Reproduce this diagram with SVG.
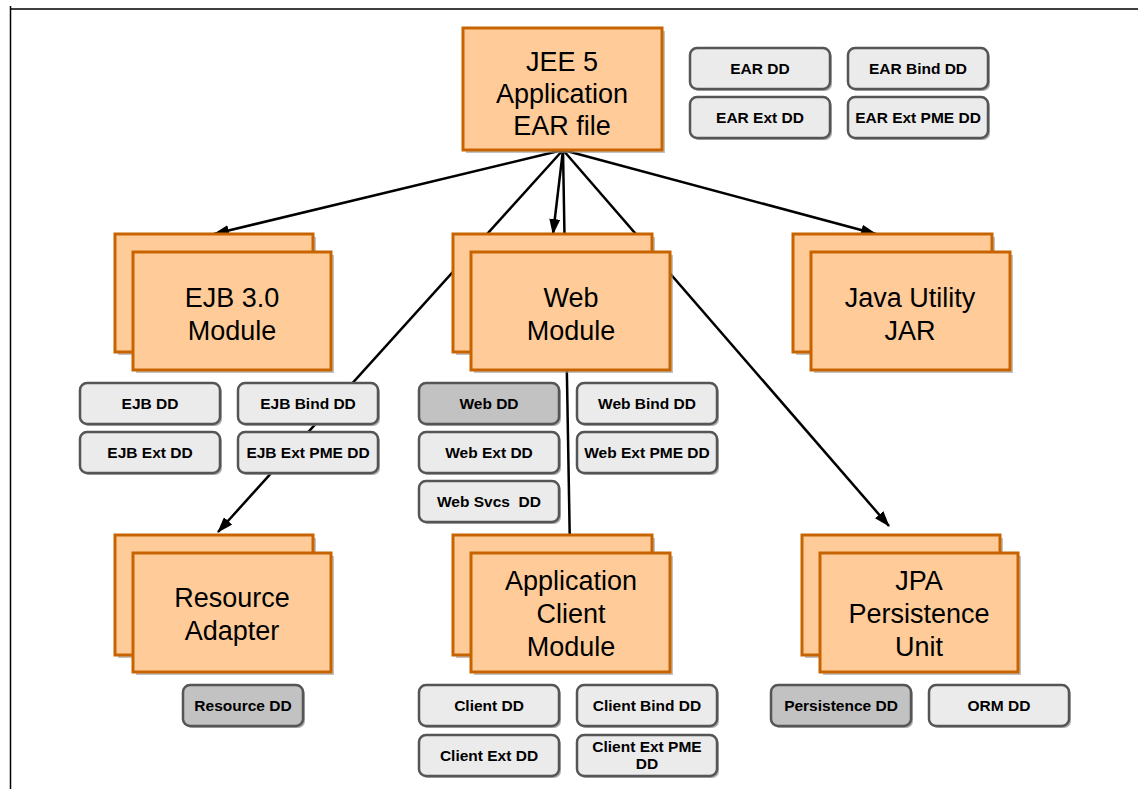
<svg xmlns="http://www.w3.org/2000/svg" width="1138" height="789" viewBox="0 0 1138 789">
<defs>
<style>
.mod{fill:#FFCC99;stroke:#C86400;stroke-width:3}
.msh{fill:#9a9a9a;opacity:0.6}
.dd{fill:#EBEBEB;stroke:#555;stroke-width:2.5}
.ddk{fill:#C2C2C2;stroke:#555;stroke-width:2.5}
.dsh{fill:#8a8a8a;opacity:0.7}
.mt{font-family:"Liberation Sans",Arial,sans-serif;font-size:27px;fill:#000;text-anchor:middle}
.dt{font-family:"Liberation Sans",Arial,sans-serif;font-size:15.5px;font-weight:bold;fill:#000;text-anchor:middle}
.ln{stroke:#000;stroke-width:2.5;fill:none}
</style>
<marker id="ah" viewBox="0 0 16 11" refX="15" refY="5.5" markerWidth="16" markerHeight="11" markerUnits="userSpaceOnUse" orient="auto">
<path d="M0,0 L16,5.5 L0,11 Z" fill="#000"/>
</marker>
</defs>
<rect width="1138" height="789" fill="#fff"/>
<g id="frame">
<line x1="10" y1="9" x2="1138" y2="9" stroke="#000" stroke-width="1.5"/>
<line x1="10.5" y1="6" x2="10.5" y2="789" stroke="#000" stroke-width="1.5"/>
</g>
<g id="connectors">
<line class="ln" x1="563" y1="150" x2="214" y2="234" marker-end="url(#ah)"/>
<line class="ln" x1="563" y1="150" x2="218" y2="532" marker-end="url(#ah)"/>
<line class="ln" x1="563" y1="150" x2="553" y2="234" marker-end="url(#ah)"/>
<line class="ln" x1="563" y1="150" x2="570" y2="552" marker-end="url(#ah)"/>
<line class="ln" x1="563" y1="150" x2="889" y2="526" marker-end="url(#ah)"/>
<line class="ln" x1="563" y1="150" x2="876" y2="234" marker-end="url(#ah)"/>
</g>
<g id="ear">
<rect class="msh" x="466" y="31" width="199" height="122"/>
<rect class="mod" x="463" y="28" width="199" height="122"/>
<text class="mt" x="562" y="71">JEE 5</text>
<text class="mt" x="562" y="103">Application</text>
<text class="mt" x="562" y="135">EAR file</text>
</g>
<g id="ejb">
<rect class="msh" x="118" y="237" width="198" height="118"/>
<rect class="mod" x="115" y="234" width="198" height="118"/>
<rect class="msh" x="136" y="255" width="198" height="118"/>
<rect class="mod" x="133" y="252" width="198" height="118"/>
<text class="mt" x="232" y="307">EJB 3.0</text>
<text class="mt" x="232" y="340">Module</text>
</g>
<g id="web">
<rect class="msh" x="456" y="237" width="199" height="118"/>
<rect class="mod" x="453" y="234" width="199" height="118"/>
<rect class="msh" x="474" y="255" width="199" height="118"/>
<rect class="mod" x="471" y="252" width="199" height="118"/>
<text class="mt" x="571" y="307">Web</text>
<text class="mt" x="571" y="340">Module</text>
</g>
<g id="jar">
<rect class="msh" x="796" y="237" width="199" height="118"/>
<rect class="mod" x="793" y="234" width="199" height="118"/>
<rect class="msh" x="814" y="255" width="199" height="118"/>
<rect class="mod" x="811" y="252" width="199" height="118"/>
<text class="mt" x="910" y="307">Java Utility</text>
<text class="mt" x="910" y="340">JAR</text>
</g>
<g id="resource">
<rect class="msh" x="118" y="538" width="198" height="120"/>
<rect class="mod" x="115" y="535" width="198" height="120"/>
<rect class="msh" x="136" y="556" width="198" height="119"/>
<rect class="mod" x="133" y="553" width="198" height="119"/>
<text class="mt" x="232" y="607">Resource</text>
<text class="mt" x="232" y="640">Adapter</text>
</g>
<g id="client">
<rect class="msh" x="456" y="538" width="199" height="120"/>
<rect class="mod" x="453" y="535" width="199" height="120"/>
<rect class="msh" x="474" y="556" width="199" height="119"/>
<rect class="mod" x="471" y="553" width="199" height="119"/>
<text class="mt" x="571" y="590">Application</text>
<text class="mt" x="571" y="623">Client</text>
<text class="mt" x="571" y="656">Module</text>
</g>
<g id="jpa">
<rect class="msh" x="805" y="538" width="198" height="120"/>
<rect class="mod" x="802" y="535" width="198" height="120"/>
<rect class="msh" x="823" y="556" width="198" height="119"/>
<rect class="mod" x="820" y="553" width="198" height="119"/>
<text class="mt" x="919" y="590">JPA</text>
<text class="mt" x="919" y="623">Persistence</text>
<text class="mt" x="919" y="656">Unit</text>
</g>
<g id="ear-dd"><rect class="dsh" x="692" y="50" width="140" height="41" rx="7"/><rect class="dd" x="690" y="48" width="140" height="41" rx="7"/><text class="dt" x="760" y="74">EAR DD</text></g>
<g id="ear-bind-dd"><rect class="dsh" x="850" y="50" width="140" height="41" rx="7"/><rect class="dd" x="848" y="48" width="140" height="41" rx="7"/><text class="dt" x="918" y="74">EAR Bind DD</text></g>
<g id="ear-ext-dd"><rect class="dsh" x="692" y="99" width="140" height="41" rx="7"/><rect class="dd" x="690" y="97" width="140" height="41" rx="7"/><text class="dt" x="760" y="123">EAR Ext DD</text></g>
<g id="ear-ext-pme-dd"><rect class="dsh" x="850" y="99" width="140" height="41" rx="7"/><rect class="dd" x="848" y="97" width="140" height="41" rx="7"/><text class="dt" x="918" y="123">EAR Ext PME DD</text></g>
<g id="ejb-dd"><rect class="dsh" x="82" y="385" width="140" height="41" rx="7"/><rect class="dd" x="80" y="383" width="140" height="41" rx="7"/><text class="dt" x="150" y="409">EJB DD</text></g>
<g id="ejb-bind-dd"><rect class="dsh" x="240" y="385" width="140" height="41" rx="7"/><rect class="dd" x="238" y="383" width="140" height="41" rx="7"/><text class="dt" x="308" y="409">EJB Bind DD</text></g>
<g id="ejb-ext-dd"><rect class="dsh" x="82" y="434" width="140" height="41" rx="7"/><rect class="dd" x="80" y="432" width="140" height="41" rx="7"/><text class="dt" x="150" y="458">EJB Ext DD</text></g>
<g id="ejb-ext-pme-dd"><rect class="dsh" x="240" y="434" width="140" height="41" rx="7"/><rect class="dd" x="238" y="432" width="140" height="41" rx="7"/><text class="dt" x="308" y="458">EJB Ext PME DD</text></g>
<g id="web-dd"><rect class="dsh" x="421" y="385" width="140" height="41" rx="7"/><rect class="ddk" x="419" y="383" width="140" height="41" rx="7"/><text class="dt" x="489" y="409">Web DD</text></g>
<g id="web-bind-dd"><rect class="dsh" x="579" y="385" width="140" height="41" rx="7"/><rect class="dd" x="577" y="383" width="140" height="41" rx="7"/><text class="dt" x="647" y="409">Web Bind DD</text></g>
<g id="web-ext-dd"><rect class="dsh" x="421" y="434" width="140" height="41" rx="7"/><rect class="dd" x="419" y="432" width="140" height="41" rx="7"/><text class="dt" x="489" y="458">Web Ext DD</text></g>
<g id="web-ext-pme-dd"><rect class="dsh" x="579" y="434" width="140" height="41" rx="7"/><rect class="dd" x="577" y="432" width="140" height="41" rx="7"/><text class="dt" x="647" y="458">Web Ext PME DD</text></g>
<g id="web-svcs-dd"><rect class="dsh" x="421" y="483" width="140" height="41" rx="7"/><rect class="dd" x="419" y="481" width="140" height="41" rx="7"/><text class="dt" x="489" y="507" xml:space="preserve">Web Svcs  DD</text></g>
<g id="resource-dd"><rect class="dsh" x="185" y="687" width="120" height="41" rx="7"/><rect class="ddk" x="183" y="685" width="120" height="41" rx="7"/><text class="dt" x="243" y="711">Resource DD</text></g>
<g id="client-dd"><rect class="dsh" x="421" y="687" width="140" height="41" rx="7"/><rect class="dd" x="419" y="685" width="140" height="41" rx="7"/><text class="dt" x="489" y="711">Client DD</text></g>
<g id="client-bind-dd"><rect class="dsh" x="579" y="687" width="140" height="41" rx="7"/><rect class="dd" x="577" y="685" width="140" height="41" rx="7"/><text class="dt" x="647" y="711">Client Bind DD</text></g>
<g id="client-ext-dd"><rect class="dsh" x="421" y="737" width="140" height="41" rx="7"/><rect class="dd" x="419" y="735" width="140" height="41" rx="7"/><text class="dt" x="489" y="761">Client Ext DD</text></g>
<g id="client-ext-pme-dd"><rect class="dsh" x="579" y="737" width="140" height="41" rx="7"/><rect class="dd" x="577" y="735" width="140" height="41" rx="7"/><text class="dt" x="647" y="752">Client Ext PME</text><text class="dt" x="647" y="769">DD</text></g>
<g id="persistence-dd"><rect class="dsh" x="773" y="687" width="140" height="41" rx="7"/><rect class="ddk" x="771" y="685" width="140" height="41" rx="7"/><text class="dt" x="841" y="711">Persistence DD</text></g>
<g id="orm-dd"><rect class="dsh" x="931" y="687" width="140" height="41" rx="7"/><rect class="dd" x="929" y="685" width="140" height="41" rx="7"/><text class="dt" x="999" y="711">ORM DD</text></g>
</svg>
